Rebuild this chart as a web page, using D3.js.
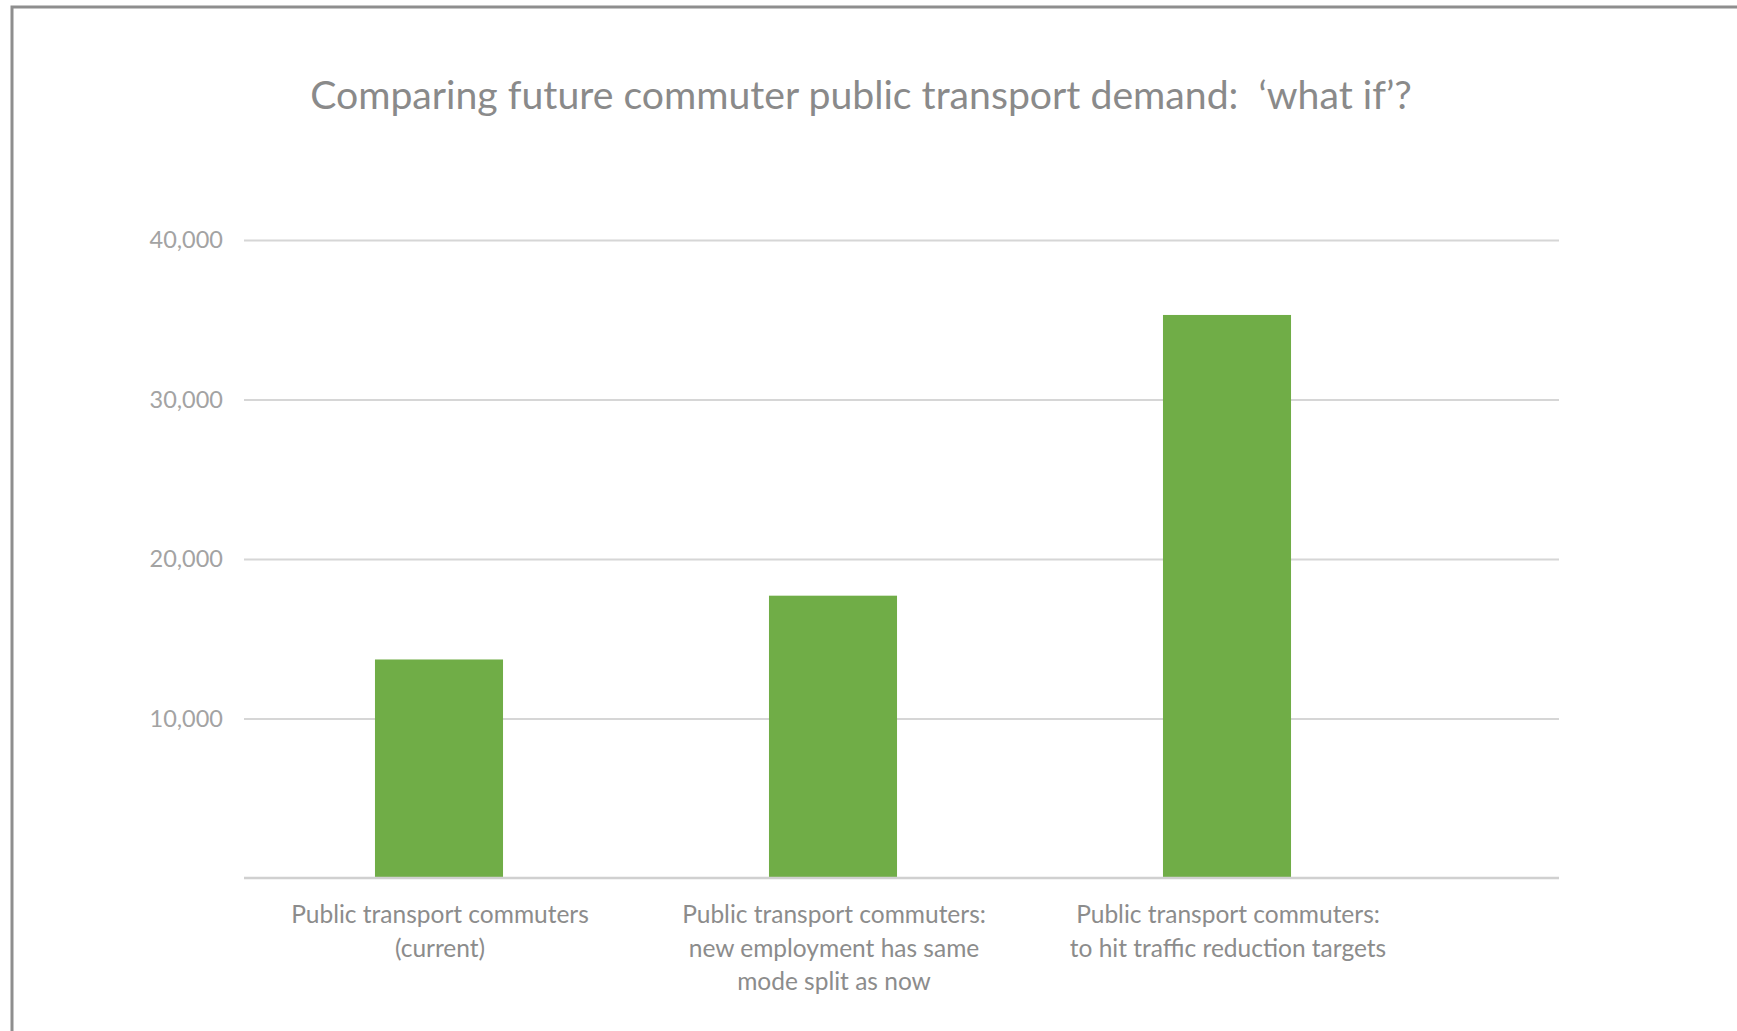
<!DOCTYPE html>
<html>
<head>
<meta charset="utf-8">
<script src="https://cdn.jsdelivr.net/npm/d3@7"></script>
<style>
  html, body { margin: 0; padding: 0; background: #fff; }
  svg { display: block; }
</style>
</head>
<body>
<svg id="chart" width="1737" height="1031"></svg>
<script>
// Chart content
const titleText = "Comparing future commuter public transport demand:  \u2018what if\u2019?";
const categories = [
  ["Public transport commuters", "(current)"],
  ["Public transport commuters:", "new employment has same", "mode split as now"],
  ["Public transport commuters:", "to hit traffic reduction targets"]
];
const values = [13700, 17700, 35300];
const yTicks = [10000, 20000, 30000, 40000];
const yTickLabels = ["10,000", "20,000", "30,000", "40,000"];

const W = 1737, H = 1031;
const svg = d3.select("#chart");
const fontFamily = "Lato, 'Open Sans', sans-serif";

// Frame around the chart area (runs off the right and bottom edges)
svg.append("rect")
  .attr("x", 12).attr("y", 7)
  .attr("width", W + 20).attr("height", H + 20)
  .attr("fill", "#fff")
  .attr("stroke", "#8e8e8e")
  .attr("stroke-width", 3);

// Plot geometry
const plot = { left: 244, right: 1559, top: 240, bottom: 878 };
const ids = categories.map((d, i) => i);

const x = d3.scaleBand()
  .domain(ids)
  .range([plot.left - 2, plot.left - 2 + 3 * 394])
  .paddingInner(0.675)
  .paddingOuter(0.3375);

const y = d3.scaleLinear()
  .domain([0, 40000])
  .range([plot.bottom, plot.top]);

// Title (keeps the double space before the quote)
svg.append("text")
  .attr("x", 861).attr("y", 109)
  .attr("text-anchor", "middle")
  .attr("font-family", fontFamily)
  .attr("font-size", 39.2)
  .attr("fill", "#8a8a8a")
  .style("white-space", "pre")
  .text(titleText);

// Horizontal gridlines and tick labels
const yAxis = d3.axisLeft(y)
  .tickValues(yTicks)
  .tickFormat((d, i) => yTickLabels[i])
  .tickSize(-(plot.right - plot.left))
  .tickPadding(21);

const gy = svg.append("g")
  .attr("transform", `translate(${plot.left},0)`)
  .call(yAxis);
gy.select(".domain").remove();
gy.selectAll(".tick line")
  .attr("stroke", "#d6d6d6")
  .attr("stroke-width", 2);
gy.selectAll(".tick text")
  .attr("font-family", fontFamily)
  .attr("font-size", 23.5)
  .attr("fill", "#a3a3a3");

// Bars
svg.append("g")
  .selectAll("rect")
  .data(values)
  .join("rect")
  .attr("x", (d, i) => x(i))
  .attr("y", d => y(d))
  .attr("width", x.bandwidth())
  .attr("height", d => y(0) - y(d))
  .attr("fill", "#70ad47");

// Category axis baseline
svg.append("line")
  .attr("x1", plot.left).attr("x2", plot.right)
  .attr("y1", y(0)).attr("y2", y(0))
  .attr("stroke", "#d0d0d0")
  .attr("stroke-width", 2.5);

// Category labels (multi-line)
const labels = svg.append("g")
  .selectAll("text")
  .data(categories)
  .join("text")
  .attr("text-anchor", "middle")
  .attr("font-family", fontFamily)
  .attr("font-size", 24.5)
  .attr("fill", "#8c8c8c")
  .attr("transform", (d, i) => `translate(${x(i) + x.bandwidth() / 2 + 1},${y(0) + 45})`);

labels.selectAll("tspan")
  .data(d => d)
  .join("tspan")
  .attr("x", 0)
  .attr("dy", (d, j) => j === 0 ? 0 : 33.5)
  .text(d => d);
</script>
</body>
</html>
